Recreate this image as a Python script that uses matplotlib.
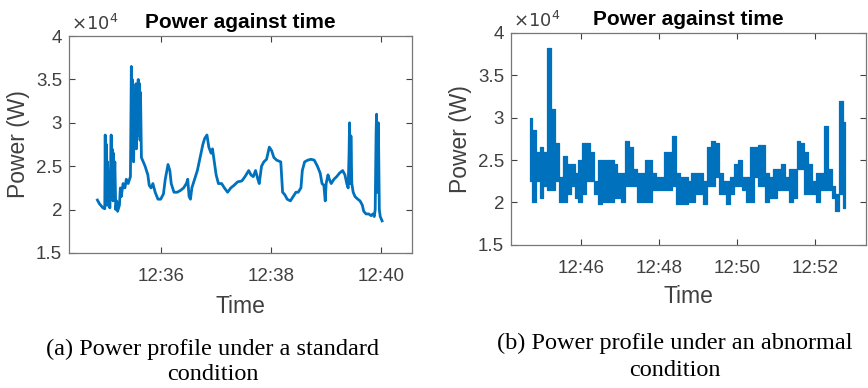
import pandas as pd
import matplotlib
matplotlib.use("Agg")
import matplotlib.pyplot as plt
import matplotlib.dates as mdates

plt.rcParams['font.family'] = ['Liberation Sans', 'DejaVu Sans']

# (a) standard condition: seconds after 12:34:50, power in 1e4 W
left_sec = [1, 3, 7, 9, 9.5, 10, 11, 11.5, 12, 13, 14, 14.5, 16, 16.5, 17, 18, 18.5, 19, 20, 21,
            22, 23, 25, 26, 27, 29, 31, 32.5, 34.5, 36, 37, 38, 38.5, 39, 40, 40.5, 41.5, 42, 43, 43.5,
            44, 45, 45.5, 46, 47, 47.5, 48, 49, 51, 53, 56, 57.5, 59.5, 61.5, 64, 67, 70, 73, 75, 78,
            80, 81.5, 84.5, 88, 91.5, 95, 98, 99.5, 101, 102.5, 104, 107, 110, 113, 116, 118, 120.5,
            122.5, 125, 126.5, 128.5, 130.5, 133, 136.5, 139.5, 143, 146.5, 150, 154, 158.5, 162, 166,
            168.5, 171, 173.5, 176, 177.5, 180, 182.5, 185.5, 188.5, 191, 193.5, 196.5, 201, 203,
            205.5, 208, 211.5, 214.5, 217.5, 220, 223, 224.5, 227, 230.5, 234, 237.5, 241, 244, 246,
            248, 249.5, 250.5, 252.5, 254, 256, 259, 262, 265, 268.5, 271, 273, 274.5, 275.5, 276,
            277, 277.5, 278.5, 280, 282, 285, 287.5, 290, 291.5, 294, 297, 299.5, 301.5, 303, 304,
            305, 305.5, 306.5, 307.5, 308.5, 309.5, 311.5]
left_power = [2.11, 2.07, 2.02, 2.01, 2.86, 2.2, 2.75, 2.05, 2.55, 2.1, 2.4, 2.02, 2.86, 2.25, 2.7, 2.1,
              2.65, 2.2, 2.55, 2.0, 2.1, 1.98, 2.05, 2.25, 2.15, 2.3, 2.25, 2.35, 2.3, 2.35, 2.38, 3.65,
              2.6, 3.5, 2.7, 2.55, 3.3, 2.8, 3.45, 2.7, 3.4, 2.85, 3.5, 2.9, 3.45, 2.8, 3.35, 2.6, 2.55,
              2.5, 2.4, 2.28, 2.25, 2.3, 2.2, 2.12, 2.12, 2.18, 2.35, 2.52, 2.45, 2.3, 2.2, 2.2, 2.22,
              2.25, 2.3, 2.35, 2.15, 2.12, 2.25, 2.35, 2.45, 2.6, 2.75, 2.82, 2.86, 2.72, 2.65, 2.7,
              2.55, 2.4, 2.3, 2.3, 2.25, 2.2, 2.25, 2.28, 2.32, 2.33, 2.38, 2.45, 2.4, 2.38, 2.45, 2.35,
              2.3, 2.5, 2.55, 2.58, 2.72, 2.68, 2.6, 2.57, 2.55, 2.2, 2.17, 2.12, 2.1, 2.15, 2.2, 2.2,
              2.25, 2.45, 2.55, 2.57, 2.58, 2.57, 2.5, 2.42, 2.3, 2.28, 2.1, 2.3, 2.4, 2.35, 2.3, 2.35,
              2.38, 2.42, 2.45, 2.4, 2.3, 2.25, 2.65, 3.0, 2.3, 2.85, 2.3, 2.2, 2.15, 2.12, 2.1, 2.05,
              1.98, 1.95, 1.95, 1.93, 1.95, 1.92, 2.0, 2.9, 3.1, 2.2, 3.0, 2.0, 1.92, 1.87]

# (b) abnormal condition: fast-swinging signal, max / min in each 6 s window from 12:44:41
right_high = [3.0, 2.85, 2.6, 2.65, 2.6, 3.82, 3.1, 2.7, 2.3, 2.55,
              2.45, 2.45, 2.35, 2.5, 2.7, 2.7, 2.6, 2.25, 2.5, 2.5,
              2.5, 2.5, 2.45, 2.35, 2.35, 2.72, 2.65, 2.4, 2.35, 2.35,
              2.5, 2.5, 2.35, 2.3, 2.3, 2.6, 2.6, 2.78, 2.35, 2.3,
              2.3, 2.25, 2.35, 2.35, 2.35, 2.25, 2.65, 2.72, 2.7, 2.35,
              2.25, 2.25, 2.3, 2.45, 2.5, 2.3, 2.3, 2.65, 2.65, 2.68,
              2.68, 2.35, 2.3, 2.4, 2.4, 2.45, 2.3, 2.4, 2.4, 2.72,
              2.7, 2.6, 2.45, 2.25, 2.35, 2.35, 2.9, 2.4, 2.2, 2.1,
              3.2, 2.95]
right_low = [2.25, 2.0, 2.25, 2.05, 2.2, 2.15, 2.15, 2.25, 2.0, 2.0,
             2.1, 2.2, 2.05, 2.0, 2.1, 2.25, 2.25, 2.1, 1.98, 2.0,
             2.0, 2.0, 2.05, 2.05, 2.0, 2.2, 2.2, 2.2, 2.0, 2.0,
             2.0, 2.0, 2.15, 2.15, 2.15, 2.15, 2.15, 2.2, 1.98, 1.98,
             1.98, 2.0, 2.0, 2.1, 2.1, 1.98, 2.2, 2.2, 2.3, 2.1,
             2.1, 1.98, 2.1, 2.2, 2.2, 2.15, 2.0, 2.0, 2.3, 2.2,
             2.2, 2.0, 2.05, 2.05, 2.15, 2.15, 2.15, 2.0, 2.05, 2.4,
             2.4, 2.1, 2.1, 2.1, 2.0, 2.15, 2.15, 2.15, 2.05, 1.9,
             2.1, 1.93]

left_time = pd.Timestamp('2020-01-01 12:34:50') + pd.to_timedelta(left_sec, unit='s')
right_time = pd.date_range('2020-01-01 12:44:41', periods=len(right_high), freq='6s')

left_xlim = (pd.Timestamp('2020-01-01 12:34:20'), pd.Timestamp('2020-01-01 12:40:34'))
right_xlim = (pd.Timestamp('2020-01-01 12:44:12'), pd.Timestamp('2020-01-01 12:53:19'))
left_ticks = pd.to_datetime(['2020-01-01 12:36', '2020-01-01 12:38', '2020-01-01 12:40'])
right_ticks = pd.to_datetime(['2020-01-01 12:46', '2020-01-01 12:48', '2020-01-01 12:50', '2020-01-01 12:52'])
y_ticks = [1.5, 2, 2.5, 3, 3.5, 4]
y_labels = ['1.5', '2', '2.5', '3', '3.5', '4']

line_col = '#0072BD'
grey = '#404040'

fig = plt.figure(figsize=(8.68, 3.88), dpi=100)
ax1 = fig.add_axes([0.0795, 0.348, 0.395, 0.559])
ax2 = fig.add_axes([0.5887, 0.369, 0.409, 0.546])

ax1.plot(left_time, left_power, color=line_col, lw=2.0)
ax2.fill_between(right_time, right_low, right_high, step='mid', color=line_col,
                 edgecolor=line_col, lw=0.9)

panels = [(ax1, left_xlim, left_ticks, 7), (ax2, right_xlim, right_ticks, 6)]
for ax, xl, xt, lp in panels:
    ax.set_xlim(xl)
    ax.set_ylim(1.5, 4)
    ax.set_xticks(xt)
    ax.xaxis.set_major_formatter(mdates.DateFormatter('%H:%M'))
    ax.set_yticks(y_ticks)
    ax.set_yticklabels(y_labels)
    ax.tick_params(direction='in', top=True, right=True, length=4, width=0.8,
                   labelsize=13.5, colors=grey)
    ax.tick_params(axis='x', pad=11)
    ax.tick_params(axis='y', pad=5)
    for s in ax.spines.values():
        s.set_color('#777777')
        s.set_linewidth(0.9)
    ax.set_title('Power against time', fontsize=15, fontweight='bold', pad=6)
    ax.set_xlabel('Time', fontsize=16.5, color=grey, labelpad=lp)
    ax.set_ylabel('Power (W)', fontsize=16.5, color=grey, labelpad=4)
    ax.text(0.005, 1.01, r'$\times10^{4}$', transform=ax.transAxes, fontsize=13,
            color=grey, ha='left', va='bottom')

cap = dict(family=['Liberation Serif', 'DejaVu Serif'], fontsize=17.5, ha='center', va='center')
fig.text(212 / 868, 1 - 349 / 388, '(a) Power profile under a standard', **cap)
fig.text(213 / 868, 1 - 375 / 388, 'condition', **cap)
fig.text(675 / 868, 1 - 343 / 388, '(b) Power profile under an abnormal', **cap)
fig.text(675 / 868, 1 - 371 / 388, 'condition', **cap)

fig.savefig('out.png', dpi=100)
